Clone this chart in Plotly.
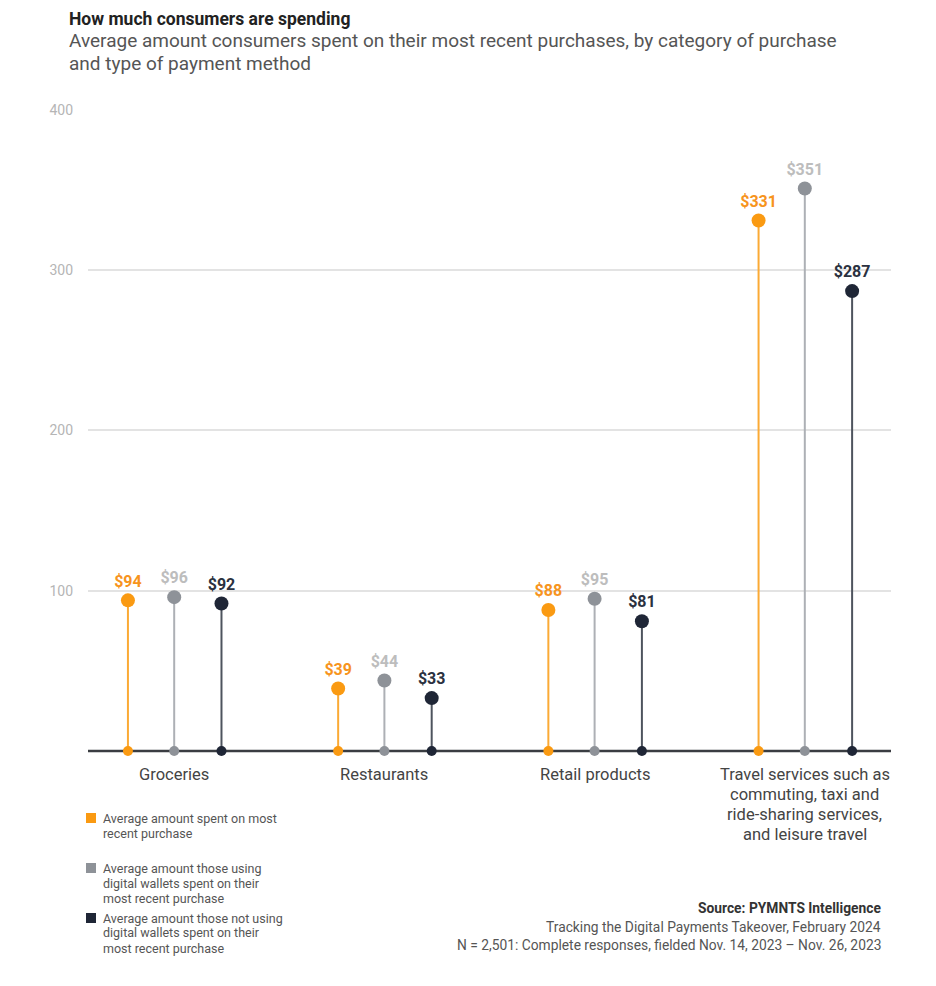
import plotly.graph_objects as go

categories = [
    ["Groceries"],
    ["Restaurants"],
    ["Retail products"],
    ["Travel services such as", "commuting, taxi and", "ride-sharing services,", "and leisure travel"],
]
series_names = [
    ["Average amount spent on most", "recent purchase"],
    ["Average amount those using", "digital wallets spent on their", "most recent purchase"],
    ["Average amount those not using", "digital wallets spent on their", "most recent purchase"],
]
all_spend = [94, 39, 88, 331]
wallet_spend = [96, 44, 95, 351]
no_wallet_spend = [92, 33, 81, 287]
y_ticks = [100, 200, 300, 400]

values = [all_spend, wallet_spend, no_wallet_spend]
offsets = [-0.22, 0.0, 0.225]
marker_colors = ["#FA9A12", "#8E9298", "#1F2636"]
stem_colors = ["#FBAA35", "#ADB0B5", "#4E545E"]
label_colors = ["#F7941D", "#BDBDBD", "#2B3140"]

FONT = "Roboto"
fig = go.Figure()

# baseline
fig.add_shape(type="line", xref="paper", yref="y", x0=0, x1=1, y0=0, y1=0,
              line=dict(color="#3A3D42", width=2.5), layer="below")

for vals, off, mc, sc, lc in zip(values, offsets, marker_colors, stem_colors, label_colors):
    xs, ys = [], []
    for i, v in enumerate(vals):
        xs += [i + off, i + off, None]
        ys += [0, v, None]
    fig.add_trace(go.Scatter(x=xs, y=ys, mode="lines", line=dict(color=sc, width=2),
                             hoverinfo="skip", showlegend=False))
    fig.add_trace(go.Scatter(x=[i + off for i in range(len(vals))], y=[0] * len(vals),
                             mode="markers", marker=dict(color=mc, size=10),
                             hoverinfo="skip", showlegend=False))
    fig.add_trace(go.Scatter(x=[i + off for i in range(len(vals))], y=vals,
                             mode="markers+text", marker=dict(color=mc, size=14),
                             text=[f"${v}" for v in vals], textposition="top center",
                             textfont=dict(family=FONT, size=16, color=lc, weight="bold"),
                             showlegend=False))

# plot area in window pixels (figure sits at an 8px page margin)
OX, OY = 8, 8
L, R, T, B = 88, 891, 110, 767
W, H = R - L, B - T


def xp(px):
    return (px - L) / W


def yp(py):
    return (B - py) / H


ann = []
ann.append(dict(text="<b>How much consumers are spending</b>", x=xp(68), y=yp(18.5),
                xanchor="left", yanchor="middle", font=dict(family=FONT, size=17.5, color="#222222")))
ann.append(dict(text="Average amount consumers spent on their most recent purchases, by category of purchase",
                x=xp(68), y=yp(40.5), xanchor="left", yanchor="middle",
                font=dict(family=FONT, size=19, color="#555555")))
ann.append(dict(text="and type of payment method", x=xp(68), y=yp(63.5), xanchor="left", yanchor="middle",
                font=dict(family=FONT, size=19, color="#555555")))

for i, lines in enumerate(categories):
    for j, line in enumerate(lines):
        ann.append(dict(text=line, x=i, xref="x", y=yp(774 + 20 * j), yanchor="middle", xanchor="center",
                        font=dict(family=FONT, size=16.5, color="#444444")))

legend_tops = [818, 868, 918]
for lines, mc, top in zip(series_names, marker_colors, legend_tops):
    for j, line in enumerate(lines):
        ann.append(dict(text=line, x=xp(102), y=yp(top + 15 * j), xanchor="left", yanchor="middle",
                        font=dict(family=FONT, size=12.5, color="#555555")))
    fig.add_shape(type="rect", xref="paper", yref="paper", x0=xp(86), x1=xp(96),
                  y0=yp(top + 5), y1=yp(top - 5), fillcolor=mc, line=dict(width=0))

src = [("<b>Source: PYMNTS Intelligence</b>", 908, "#333333"),
       ("Tracking the Digital Payments Takeover, February 2024", 927, "#555555"),
       ("N = 2,501: Complete responses, fielded Nov. 14, 2023 – Nov. 26, 2023", 945, "#555555")]
for t, py, col in src:
    ann.append(dict(text=t, x=xp(882), y=yp(py), xanchor="right", yanchor="middle",
                    font=dict(family=FONT, size=13.8, color=col)))

for a in ann:
    a.setdefault("xref", "paper")
    a["yref"] = "paper"
    a["showarrow"] = False
    a["borderpad"] = 0

FW, FH = 936 - OX, 986 - OY
fig.update_layout(
    width=FW, height=FH,
    margin=dict(l=L - OX, r=OX + FW - R, t=T - OY, b=OY + FH - B),
    plot_bgcolor="white", paper_bgcolor="white",
    annotations=ann,
    xaxis=dict(range=[-0.41, 3.41], showgrid=False, zeroline=False, showticklabels=False,
               fixedrange=True),
    yaxis=dict(range=[-10, 400], tickvals=y_ticks, showgrid=True, gridcolor="#E3E3E3",
               gridwidth=1.5, zeroline=False, ticks="", ticklabelstandoff=14,
               tickfont=dict(family=FONT, size=14, color="#B5B5B5"), fixedrange=True),
    font=dict(family=FONT),
)

fig.write_html("out.html")
